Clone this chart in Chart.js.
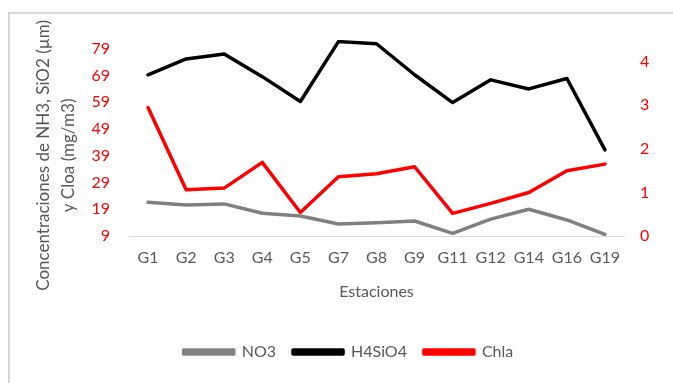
<!DOCTYPE html>
<html>
<head>
<meta charset="utf-8">
<script src="https://cdn.jsdelivr.net/npm/chart.js@4.4.0/dist/chart.umd.min.js"></script>
<style>
  html, body { margin: 0; padding: 0; background: #fff; }
  #wrap { position: relative; width: 673px; height: 383px; overflow: hidden; }
  #frame { position: absolute; left: 8px; top: 12px; width: 700px; height: 400px;
           border-left: 2px solid #d9d9d9; border-top: 2px solid #d9d9d9; }
  canvas { position: absolute; left: 0; top: 0; }
</style>
</head>
<body>
<div id="wrap">
  <div id="frame"></div>
  <canvas id="chart" width="673" height="383"></canvas>
</div>
<script>
const stations = ['G1', 'G2', 'G3', 'G4', 'G5', 'G7', 'G8', 'G9', 'G11', 'G12', 'G14', 'G16', 'G19'];
const no3 = [21.6, 20.6, 21.0, 17.5, 16.5, 13.5, 14.0, 14.6, 10.0, 15.3, 19.0, 15.0, 9.6];
const h4sio4 = [69.3, 75.2, 77.1, 68.6, 59.3, 81.7, 80.9, 69.3, 58.9, 67.4, 64.0, 67.9, 41.2];
const chla = [2.95, 1.06, 1.10, 1.69, 0.54, 1.36, 1.43, 1.59, 0.52, 0.75, 1.00, 1.50, 1.65];
const leftTicks = [9, 19, 29, 39, 49, 59, 69, 79];
const rightTicks = [0, 1, 2, 3, 4];

const grey = '#595959';
const font = { family: 'Lato', size: 16 };
// trailing spaces push the rotated title a little lower, as in the original
const pad = '\u00a0'.repeat(8);

function lineSet(label, data, color, axis, order) {
    return {
        label: label,
        data: data,
        borderColor: color,
        backgroundColor: color,
        borderWidth: 3.5,
        borderJoinStyle: 'round',
        borderCapStyle: 'round',
        pointRadius: 0,
        tension: 0,
        yAxisID: axis,
        order: order
    };
}

new Chart(document.getElementById('chart'), {
    type: 'line',
    data: {
        labels: stations,
        datasets: [
            lineSet('NO3', no3, '#808080', 'y', 3),
            lineSet('H4SiO4', h4sio4, '#000000', 'y', 2),
            lineSet('Chla', chla, '#ff0000', 'y1', 1)
        ]
    },
    options: {
        responsive: false,
        animation: false,
        devicePixelRatio: 1,
        // left padding only shifts the legend centre; the axis width makes up for it
        layout: { padding: { top: 40, bottom: 13, left: 24, right: 0 } },
        plugins: {
            tooltip: { enabled: false },
            legend: {
                position: 'bottom',
                labels: {
                    color: grey,
                    font: font,
                    boxWidth: 50,
                    boxHeight: 4,
                    padding: 17,
                    sort: (a, b) => a.datasetIndex - b.datasetIndex
                }
            }
        },
        scales: {
            x: {
                offset: true,
                grid: { display: false, drawTicks: false },
                border: { display: true, color: '#d9d9d9', width: 1 },
                ticks: { color: grey, font: font, padding: 12, maxRotation: 0, autoSkip: false },
                title: { display: true, text: 'Estaciones', color: grey, font: font, padding: { top: 6, bottom: 26 } },
                afterFit: s => { s.height = 91; }
            },
            y: {
                position: 'left',
                min: 9,
                max: 82.3,
                grid: { display: false, drawTicks: false },
                border: { display: false },
                ticks: { color: '#ff0000', font: font, padding: 19 },
                afterBuildTicks: s => { s.ticks = leftTicks.map(v => ({ value: v })); },
                title: {
                    display: true,
                    text: ['Concentraciones de NH3, SiO2 (µm)' + pad, 'y Cloa (mg/m3)' + pad],
                    color: grey,
                    font: { family: 'Lato', size: 17, lineHeight: 1.47 },
                    padding: { top: 7, bottom: 0 }
                },
                afterFit: s => { s.width = 105; }
            },
            y1: {
                position: 'right',
                min: 0,
                max: 4.5,
                grid: { display: false, drawTicks: false },
                border: { display: false },
                ticks: { color: '#ff0000', font: font, padding: 16 },
                afterBuildTicks: s => { s.ticks = rightTicks.map(v => ({ value: v })); },
                afterFit: s => { s.width = 49; }
            }
        }
    }
});
</script>
</body>
</html>
